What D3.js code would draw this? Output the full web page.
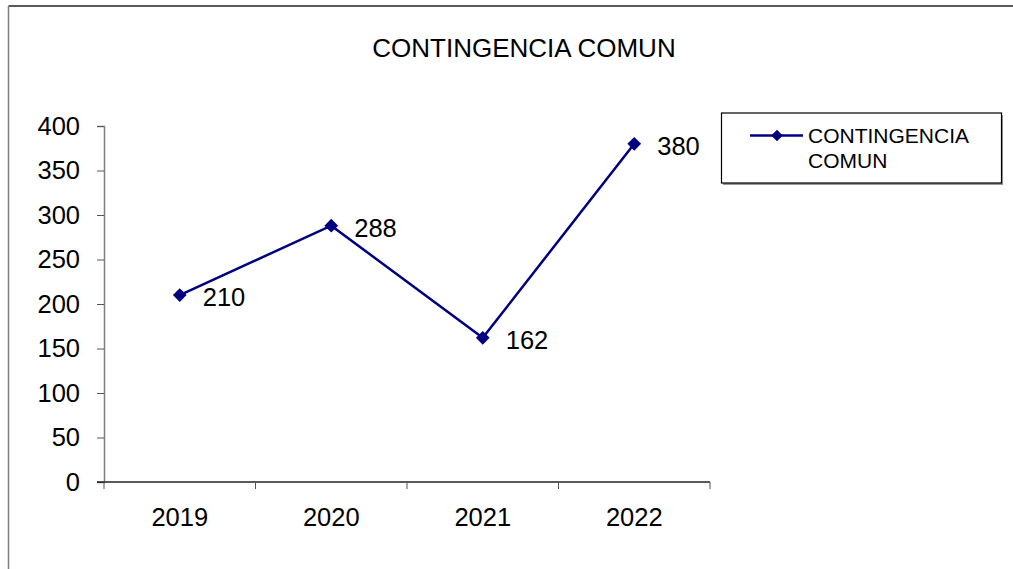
<!DOCTYPE html>
<html>
<head>
<meta charset="utf-8">
<script src="https://cdn.jsdelivr.net/npm/d3@7"></script>
<style>
  body { margin: 0; background: #fff; }
  svg { display: block; font-family: "Liberation Sans", Arial, sans-serif; }
</style>
</head>
<body>
<svg id="chart" width="1013" height="569"></svg>
<script>
// chart data
const years = ["2019", "2020", "2021", "2022"];
const values = [210, 288, 162, 380];
const yTicks = [0, 50, 100, 150, 200, 250, 300, 350, 400];
const seriesName = "CONTINGENCIA COMUN";
const legendLines = ["CONTINGENCIA", "COMUN"];

const navy = "#000080";
const svg = d3.select("#chart");

// outer frame (only top and left edges visible)
svg.append("line")
	.attr("x1", 8.5).attr("y1", 6).attr("x2", 1013).attr("y2", 6)
	.style("stroke", "#222").style("stroke-width", 1.5);
svg.append("line")
	.attr("x1", 8.5).attr("y1", 6).attr("x2", 8.5).attr("y2", 569)
	.style("stroke", "#808080").style("stroke-width", 1.5);

// title
svg.append("text")
	.attr("x", 524).attr("y", 57)
	.attr("text-anchor", "middle")
	.style("font-size", "26px")
	.text(seriesName);

const plot = { left: 104, right: 710, top: 126, bottom: 482 };

const x = d3.scaleBand()
	.domain(years)
	.range([plot.left, plot.right]);

const y = d3.scaleLinear()
	.domain([0, 400])
	.range([plot.bottom, plot.top]);

// y axis
const yAxis = svg.append("g")
	.attr("transform", `translate(${plot.left},0)`)
	.call(d3.axisLeft(y).tickValues(yTicks).tickSize(7).tickPadding(17));
yAxis.select(".domain").attr("stroke", "#808080").attr("stroke-width", 1.5);
yAxis.selectAll(".tick line").attr("stroke", "#555");
yAxis.selectAll("text")
	.style("font-size", "25.5px")
	.style("font-family", "Liberation Sans, Arial, sans-serif")
	.attr("fill", "#000");

// x axis, ticks between categories
const xAxis = svg.append("g")
	.attr("transform", `translate(0,${plot.bottom})`);
xAxis.append("line")
	.attr("x1", plot.left - 7).attr("x2", plot.right)
	.attr("stroke", "#222").attr("stroke-width", 1.5);
const bounds = years.map(d => x(d)).concat([plot.right]);
xAxis.selectAll(".xtick")
	.data(bounds)
	.enter().append("line")
	.attr("x1", d => d).attr("x2", d => d)
	.attr("y1", 0).attr("y2", 7)
	.attr("stroke", "#555");
xAxis.selectAll(".xlabel")
	.data(years)
	.enter().append("text")
	.attr("x", d => x(d) + x.bandwidth() / 2)
	.attr("y", 44)
	.attr("text-anchor", "middle")
	.style("font-size", "25.5px")
	.text(d => d);

// series
const pts = years.map((yr, i) => ({ yr, v: values[i] }));
const line = d3.line()
	.x(d => x(d.yr) + x.bandwidth() / 2)
	.y(d => y(d.v));

svg.append("path")
	.datum(pts)
	.attr("d", line)
	.attr("fill", "none")
	.attr("stroke", navy)
	.attr("stroke-width", 2.5);

const diamond = d3.symbol().type(d3.symbolDiamond2).size(120);
svg.selectAll(".pt")
	.data(pts)
	.enter().append("path")
	.attr("d", diamond)
	.attr("transform", d => `translate(${x(d.yr) + x.bandwidth() / 2},${y(d.v)})`)
	.attr("fill", navy);

svg.selectAll(".lbl")
	.data(pts)
	.enter().append("text")
	.attr("x", d => x(d.yr) + x.bandwidth() / 2 + 23)
	.attr("y", d => y(d.v) + 11)
	.style("font-size", "25.5px")
	.text(d => d.v);

// legend
const lg = svg.append("g");
lg.append("rect")
	.attr("x", 723).attr("y", 115).attr("width", 280).attr("height", 70)
	.attr("fill", "#999");
lg.append("rect")
	.attr("x", 721.5).attr("y", 113).attr("width", 280).attr("height", 70)
	.attr("fill", "#fff").attr("stroke", "#000").attr("stroke-width", 1.2);
lg.append("line")
	.attr("x1", 750).attr("x2", 803).attr("y1", 135.5).attr("y2", 135.5)
	.attr("stroke", navy).attr("stroke-width", 2.5);
lg.append("path")
	.attr("d", d3.symbol().type(d3.symbolDiamond2).size(85))
	.attr("transform", "translate(777,135.5)")
	.attr("fill", navy);
lg.selectAll(".lgt")
	.data(legendLines)
	.enter().append("text")
	.attr("x", 808)
	.attr("y", (d, i) => 143 + i * 25)
	.style("font-size", "21px")
	.text(d => d);
</script>
</body>
</html>
